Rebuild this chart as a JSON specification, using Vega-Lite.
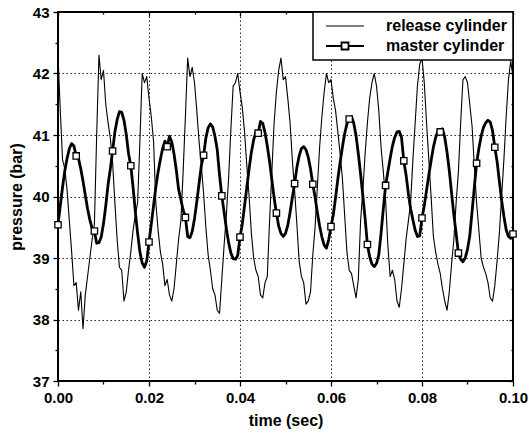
{
  "$schema": "https://vega.github.io/schema/vega-lite/v6.json",
  "width": 455,
  "height": 369,
  "autosize": "none",
  "padding": {"left": 58, "top": 12, "right": 16, "bottom": 52},
  "background": "white",
  "config": {
    "view": {"stroke": "black", "strokeWidth": 2},
    "font": "Liberation Sans",
    "axis": {
      "domain": false,
      "tickColor": "black",
      "tickWidth": 1.3,
      "labelColor": "black",
      "labelFont": "Liberation Sans",
      "labelFontSize": 15,
      "labelFontWeight": "bold",
      "titleColor": "black",
      "titleFont": "Liberation Sans",
      "titleFontSize": 16,
      "titleFontWeight": "bold",
      "gridColor": "black",
      "gridDash": [1.5, 2.5],
      "gridWidth": 1,
      "labelOverlap": false,
      "labelFlush": false
    }
  },
  "datasets": {
    "d": [
      {"t":0,"r":42.30,"m":39.54},{"t":0.0005,"r":41.40,"m":39.85},{"t":0.001,"r":40.60,"m":40.15},{"t":0.0015,"r":40.45,"m":40.42},{"t":0.002,"r":40.10,"m":40.62},{"t":0.0025,"r":39.60,"m":40.78},{"t":0.003,"r":39.10,"m":40.86},{"t":0.0035,"r":38.55,"m":40.82},{"t":0.004,"r":38.60,"m":40.66},{"t":0.0045,"r":38.15,"m":40.62},
      {"t":0.005,"r":38.45,"m":40.45},{"t":0.0055,"r":37.85,"m":40.25},{"t":0.006,"r":38.40,"m":40.02},{"t":0.0065,"r":38.70,"m":39.80},{"t":0.007,"r":39.00,"m":39.62},{"t":0.0075,"r":39.30,"m":39.48},{"t":0.008,"r":39.55,"m":39.44},{"t":0.0085,"r":41.00,"m":39.24},{"t":0.009,"r":42.30,"m":39.25},{"t":0.0095,"r":41.90,"m":39.34},
      {"t":0.01,"r":42.05,"m":39.56},{"t":0.0105,"r":41.50,"m":39.85},{"t":0.011,"r":41.20,"m":40.19},{"t":0.0115,"r":40.95,"m":40.45},{"t":0.012,"r":40.55,"m":40.74},{"t":0.0125,"r":39.90,"m":41.05},{"t":0.013,"r":39.30,"m":41.25},{"t":0.0135,"r":38.85,"m":41.38},{"t":0.014,"r":38.80,"m":41.37},{"t":0.0145,"r":38.30,"m":41.24},
      {"t":0.015,"r":38.45,"m":41.01},{"t":0.0155,"r":38.80,"m":40.70},{"t":0.016,"r":39.10,"m":40.50},{"t":0.0165,"r":39.45,"m":40.15},{"t":0.017,"r":39.70,"m":39.75},{"t":0.0175,"r":39.90,"m":39.40},{"t":0.018,"r":40.90,"m":39.10},{"t":0.0185,"r":42.00,"m":38.92},{"t":0.019,"r":41.85,"m":38.85},{"t":0.0195,"r":41.95,"m":38.95},
      {"t":0.02,"r":41.60,"m":39.26},{"t":0.0205,"r":41.30,"m":39.55},{"t":0.021,"r":40.90,"m":39.85},{"t":0.0215,"r":39.90,"m":40.15},{"t":0.022,"r":39.45,"m":40.40},{"t":0.0225,"r":39.10,"m":40.60},{"t":0.023,"r":38.90,"m":40.78},{"t":0.0235,"r":38.55,"m":40.90},{"t":0.024,"r":38.65,"m":40.81},{"t":0.0245,"r":38.40,"m":40.98},
      {"t":0.025,"r":38.30,"m":40.89},{"t":0.0255,"r":38.50,"m":40.69},{"t":0.026,"r":38.90,"m":40.43},{"t":0.0265,"r":39.30,"m":40.12},{"t":0.027,"r":39.60,"m":39.95},{"t":0.0275,"r":40.40,"m":39.78},{"t":0.028,"r":41.30,"m":39.66},{"t":0.0285,"r":42.25,"m":39.35},{"t":0.029,"r":41.95,"m":39.33},{"t":0.0295,"r":42.10,"m":39.43},
      {"t":0.03,"r":41.85,"m":39.64},{"t":0.0305,"r":41.40,"m":39.91},{"t":0.031,"r":40.90,"m":40.21},{"t":0.0315,"r":40.50,"m":40.50},{"t":0.032,"r":40.05,"m":40.67},{"t":0.0325,"r":39.50,"m":40.95},{"t":0.033,"r":39.05,"m":41.12},{"t":0.0335,"r":38.80,"m":41.18},{"t":0.034,"r":38.50,"m":41.13},{"t":0.0345,"r":38.40,"m":40.98},
      {"t":0.035,"r":38.15,"m":40.76},{"t":0.0355,"r":38.10,"m":40.35},{"t":0.036,"r":38.65,"m":40.01},{"t":0.0365,"r":39.20,"m":39.75},{"t":0.037,"r":39.70,"m":39.48},{"t":0.0375,"r":40.30,"m":39.25},{"t":0.038,"r":41.10,"m":39.08},{"t":0.0385,"r":41.80,"m":38.99},{"t":0.039,"r":41.85,"m":38.98},{"t":0.0395,"r":42.00,"m":39.04},
      {"t":0.04,"r":41.70,"m":39.34},{"t":0.0405,"r":41.45,"m":39.55},{"t":0.041,"r":41.05,"m":39.85},{"t":0.0415,"r":40.50,"m":40.15},{"t":0.042,"r":40.00,"m":40.45},{"t":0.0425,"r":39.40,"m":40.72},{"t":0.043,"r":39.00,"m":40.92},{"t":0.0435,"r":38.80,"m":41.05},{"t":0.044,"r":38.70,"m":41.03},{"t":0.0445,"r":38.40,"m":41.22},
      {"t":0.045,"r":38.35,"m":41.19},{"t":0.0455,"r":38.60,"m":41.04},{"t":0.046,"r":38.70,"m":40.82},{"t":0.0465,"r":39.60,"m":40.57},{"t":0.047,"r":40.40,"m":40.27},{"t":0.0475,"r":41.20,"m":39.98},{"t":0.048,"r":41.70,"m":39.73},{"t":0.0485,"r":42.05,"m":39.52},{"t":0.049,"r":42.25,"m":39.40},{"t":0.0495,"r":41.90,"m":39.35},
      {"t":0.05,"r":41.95,"m":39.40},{"t":0.0505,"r":41.60,"m":39.53},{"t":0.051,"r":41.20,"m":39.74},{"t":0.0515,"r":40.60,"m":39.98},{"t":0.052,"r":40.10,"m":40.21},{"t":0.0525,"r":39.55,"m":40.47},{"t":0.053,"r":38.95,"m":40.66},{"t":0.0535,"r":38.70,"m":40.78},{"t":0.054,"r":38.60,"m":40.81},{"t":0.0545,"r":38.25,"m":40.76},
      {"t":0.055,"r":38.30,"m":40.64},{"t":0.0555,"r":38.45,"m":40.45},{"t":0.056,"r":39.05,"m":40.20},{"t":0.0565,"r":39.50,"m":39.99},{"t":0.057,"r":40.15,"m":39.74},{"t":0.0575,"r":40.80,"m":39.52},{"t":0.058,"r":41.30,"m":39.34},{"t":0.0585,"r":41.70,"m":39.21},{"t":0.059,"r":42.00,"m":39.16},{"t":0.0595,"r":41.85,"m":39.30},
      {"t":0.06,"r":41.90,"m":39.51},{"t":0.0605,"r":41.60,"m":39.70},{"t":0.061,"r":41.40,"m":39.98},{"t":0.0615,"r":41.05,"m":40.28},{"t":0.062,"r":40.70,"m":40.55},{"t":0.0625,"r":40.30,"m":40.80},{"t":0.063,"r":39.70,"m":41.02},{"t":0.0635,"r":39.10,"m":41.18},{"t":0.064,"r":38.80,"m":41.26},{"t":0.0645,"r":38.75,"m":41.30},
      {"t":0.065,"r":38.55,"m":41.19},{"t":0.0655,"r":38.35,"m":40.99},{"t":0.066,"r":38.65,"m":40.70},{"t":0.0665,"r":39.60,"m":40.37},{"t":0.067,"r":40.10,"m":40.01},{"t":0.0675,"r":40.70,"m":39.64},{"t":0.068,"r":41.20,"m":39.22},{"t":0.0685,"r":41.60,"m":39.02},{"t":0.069,"r":41.85,"m":38.90},{"t":0.0695,"r":42.00,"m":38.86},
      {"t":0.07,"r":41.80,"m":38.91},{"t":0.0705,"r":41.40,"m":39.05},{"t":0.071,"r":40.80,"m":39.40},{"t":0.0715,"r":40.40,"m":39.80},{"t":0.072,"r":39.95,"m":40.18},{"t":0.0725,"r":39.20,"m":40.40},{"t":0.073,"r":38.70,"m":40.62},{"t":0.0735,"r":38.80,"m":40.82},{"t":0.074,"r":38.65,"m":40.96},{"t":0.0745,"r":38.30,"m":41.05},
      {"t":0.075,"r":38.20,"m":41.06},{"t":0.0755,"r":38.50,"m":40.96},{"t":0.076,"r":38.90,"m":40.58},{"t":0.0765,"r":39.30,"m":40.35},{"t":0.077,"r":39.60,"m":40.05},{"t":0.0775,"r":39.90,"m":39.80},{"t":0.078,"r":40.60,"m":39.62},{"t":0.0785,"r":41.20,"m":39.45},{"t":0.079,"r":41.80,"m":39.35},{"t":0.0795,"r":42.15,"m":39.36},
      {"t":0.08,"r":42.25,"m":39.65},{"t":0.0805,"r":41.85,"m":39.85},{"t":0.081,"r":41.20,"m":40.10},{"t":0.0815,"r":40.60,"m":40.35},{"t":0.082,"r":40.00,"m":40.58},{"t":0.0825,"r":39.35,"m":40.80},{"t":0.083,"r":39.10,"m":40.96},{"t":0.0835,"r":38.90,"m":41.06},{"t":0.084,"r":38.75,"m":41.05},{"t":0.0845,"r":38.50,"m":41.10},
      {"t":0.085,"r":38.30,"m":40.96},{"t":0.0855,"r":38.15,"m":40.72},{"t":0.086,"r":38.45,"m":40.42},{"t":0.0865,"r":38.90,"m":40.06},{"t":0.087,"r":39.30,"m":39.70},{"t":0.0875,"r":39.90,"m":39.40},{"t":0.088,"r":40.40,"m":39.08},{"t":0.0885,"r":41.20,"m":38.98},{"t":0.089,"r":41.90,"m":38.94},{"t":0.0895,"r":41.95,"m":39.00},
      {"t":0.09,"r":41.85,"m":39.14},{"t":0.0905,"r":41.50,"m":39.36},{"t":0.091,"r":41.15,"m":39.75},{"t":0.0915,"r":40.50,"m":40.15},{"t":0.092,"r":39.90,"m":40.54},{"t":0.0925,"r":39.45,"m":40.78},{"t":0.093,"r":39.00,"m":40.98},{"t":0.0935,"r":38.85,"m":41.12},{"t":0.094,"r":38.75,"m":41.20},{"t":0.0945,"r":38.60,"m":41.24},
      {"t":0.095,"r":38.35,"m":41.21},{"t":0.0955,"r":38.30,"m":41.07},{"t":0.096,"r":38.55,"m":40.80},{"t":0.0965,"r":38.95,"m":40.57},{"t":0.097,"r":39.40,"m":40.25},{"t":0.0975,"r":40.00,"m":39.94},{"t":0.098,"r":40.60,"m":39.68},{"t":0.0985,"r":41.30,"m":39.46},{"t":0.099,"r":41.90,"m":39.35},{"t":0.0995,"r":42.20,"m":39.32},
      {"t":0.1,"r":41.95,"m":39.39}
    ],
    "mk": [
      {"t":0,"p":39.54},{"t":0.004,"p":40.66},{"t":0.008,"p":39.44},{"t":0.012,"p":40.74},{"t":0.016,"p":40.50},{"t":0.020,"p":39.26},{"t":0.024,"p":40.81},{"t":0.028,"p":39.66},{"t":0.032,"p":40.67},{"t":0.036,"p":40.01},{"t":0.040,"p":39.34},{"t":0.044,"p":41.03},{"t":0.048,"p":39.73},
      {"t":0.052,"p":40.21},{"t":0.056,"p":40.20},{"t":0.060,"p":39.51},{"t":0.064,"p":41.26},{"t":0.068,"p":39.22},{"t":0.072,"p":40.18},{"t":0.076,"p":40.58},{"t":0.080,"p":39.65},{"t":0.084,"p":41.05},{"t":0.088,"p":39.08},{"t":0.092,"p":40.54},{"t":0.096,"p":40.80},{"t":0.100,"p":39.39}
    ]
  },
  "resolve": {"axis": {"x": "independent", "y": "independent"}},
  "layer": [
    {
      "data": {"name": "d"},
      "mark": {"type": "line", "strokeWidth": 1.1, "strokeJoin": "round"},
      "encoding": {
        "x": {
          "field": "t", "type": "quantitative",
          "scale": {"domain": [0, 0.1], "nice": false, "zero": false},
          "axis": {
            "title": "time (sec)",
            "values": [0, 0.01, 0.02, 0.03, 0.04, 0.05, 0.06, 0.07, 0.08, 0.09, 0.1],
            "labelExpr": "round(datum.value*100)%2==1 ? '' : format(datum.value, '.2f')",
            "tickSize": {"condition": {"test": "round(datum.value*100)%2==1", "value": 3}, "value": 5},
            "gridOpacity": {"condition": {"test": "round(datum.value*100)%2==1 || round(datum.value*100)==0 || round(datum.value*100)==10", "value": 0}, "value": 0.85},
            "labelPadding": 4,
            "titlePadding": 7
          }
        },
        "y": {
          "field": "r", "type": "quantitative",
          "scale": {"domain": [37, 43], "nice": false, "zero": false},
          "axis": {
            "title": "pressure (bar)",
            "values": [37, 37.5, 38, 38.5, 39, 39.5, 40, 40.5, 41, 41.5, 42, 42.5, 43],
            "labelExpr": "datum.value % 1 != 0 ? '' : format(datum.value, 'd')",
            "tickSize": {"condition": {"test": "datum.value % 1 != 0", "value": 3}, "value": 5},
            "gridOpacity": {"condition": {"test": "datum.value % 1 != 0 || datum.value == 37 || datum.value == 43", "value": 0}, "value": 0.85},
            "labelPadding": 4,
            "titlePadding": 8
          }
        },
        "color": {
          "datum": "release cylinder", "type": "nominal",
          "scale": {"domain": ["release cylinder", "master cylinder"], "range": ["black", "black"]},
          "legend": {
            "title": null,
            "orient": "top-right",
            "offset": 0,
            "padding": 6,
            "rowPadding": 4,
            "fillColor": "white",
            "strokeColor": "black",
            "symbolSize": 100,
            "symbolOffset": 18,
            "labelOffset": 33,
            "labelFont": "Liberation Sans",
            "labelFontSize": 16,
            "labelFontWeight": "bold",
            "labelColor": "black",
            "labelExpr": "datum.label + '    '",
            "encode": {
              "legend": {"update": {"strokeWidth": {"value": 1.5}}},
              "symbols": {
                "update": {
                  "shape": {"signal": "datum.value === 'master cylinder' ? 'M-3.8,0H-0.7M0.7,0H3.8M-0.7,-0.7H0.7V0.7H-0.7Z' : 'M-3.8,0H3.8'"},
                  "strokeWidth": {"signal": "datum.value === 'master cylinder' ? 1.8 : 1.1"},
                  "stroke": {"value": "black"},
                  "fill": {"value": "white"},
                  "opacity": {"value": 1}
                }
              }
            }
          }
        }
      }
    },
    {
      "data": {"name": "d"},
      "mark": {"type": "line", "strokeWidth": 2.8, "strokeJoin": "round"},
      "encoding": {
        "x": {"field": "t", "type": "quantitative", "scale": {"domain": [0, 0.1], "nice": false, "zero": false},
          "axis": {
            "orient": "top", "title": null, "labels": false, "grid": false,
            "values": [0, 0.01, 0.02, 0.03, 0.04, 0.05, 0.06, 0.07, 0.08, 0.09, 0.1],
            "tickSize": {"condition": {"test": "round(datum.value*100)%2==1", "value": -2}, "value": -4}
          }
        },
        "y": {"field": "m", "type": "quantitative", "scale": {"domain": [37, 43], "nice": false, "zero": false},
          "axis": {
            "orient": "right", "title": null, "labels": false, "grid": false,
            "values": [37, 37.5, 38, 38.5, 39, 39.5, 40, 40.5, 41, 41.5, 42, 42.5, 43],
            "tickSize": {"condition": {"test": "datum.value % 1 != 0", "value": -2}, "value": -4}
          }
        },
        "color": {"datum": "master cylinder", "type": "nominal"}
      }
    },
    {
      "data": {"name": "mk"},
      "mark": {"type": "point", "shape": "square", "filled": true, "fill": "white", "stroke": "black", "strokeWidth": 1.3, "size": 40, "opacity": 1},
      "encoding": {
        "x": {"field": "t", "type": "quantitative", "scale": {"domain": [0, 0.1], "nice": false, "zero": false}, "axis": null},
        "y": {"field": "p", "type": "quantitative", "scale": {"domain": [37, 43], "nice": false, "zero": false}, "axis": null}
      }
    }
  ]
}
